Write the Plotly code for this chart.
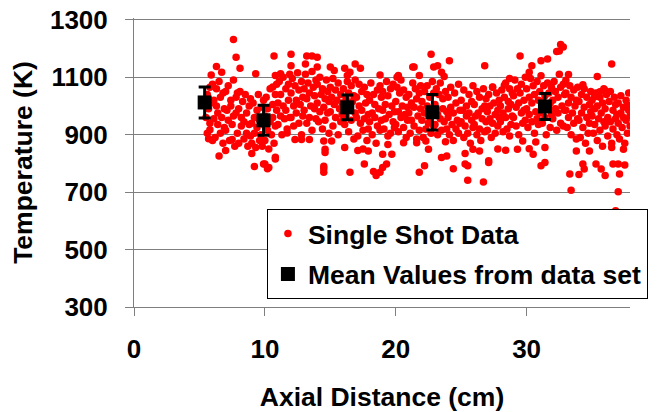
import plotly.graph_objects as go

# single shot readings, main band (cm, K)
band_x = [
    5.5, 5.6, 5.6, 5.7, 5.8, 5.8, 5.9, 6.0,
    6.0, 6.1, 6.1, 6.2, 6.3, 6.3, 6.4, 6.4, 6.5, 6.6, 6.6, 6.7, 6.8, 6.8, 6.9, 6.9,
    7.0, 7.0, 7.1, 7.2, 7.2, 7.3, 7.4, 7.4, 7.5, 7.6, 7.6, 7.7, 7.8, 7.8, 7.9, 7.9,
    8.0, 8.0, 8.1, 8.2, 8.2, 8.3, 8.4, 8.4, 8.5, 8.6, 8.6, 8.7, 8.8, 8.8, 8.9, 8.9,
    9.0, 9.0, 9.1, 9.2, 9.2, 9.3, 9.4, 9.4, 9.5, 9.6, 9.6, 9.7, 9.8, 9.8, 9.9, 9.9,
    10.0, 10.0, 10.1, 10.2, 10.2, 10.3, 10.4, 10.4, 10.5, 10.6, 10.6, 10.7, 10.8, 10.8, 10.9, 10.9,
    11.0, 11.0, 11.1, 11.2, 11.2, 11.3, 11.4, 11.4, 11.5, 11.6, 11.6, 11.7, 11.8, 11.8, 11.9, 11.9,
    12.0, 12.0, 12.1, 12.2, 12.2, 12.3, 12.4, 12.4, 12.5, 12.6, 12.6, 12.7, 12.8, 12.8, 12.9, 12.9,
    13.0, 13.0, 13.1, 13.2, 13.2, 13.3, 13.4, 13.4, 13.5, 13.6, 13.6, 13.7, 13.8, 13.8, 13.9, 13.9,
    14.0, 14.0, 14.1, 14.2, 14.2, 14.3, 14.4, 14.4, 14.5, 14.6, 14.6, 14.7, 14.8, 14.8, 14.9, 14.9,
    15.0, 15.0, 15.1, 15.2, 15.2, 15.3, 15.4, 15.4, 15.5, 15.6, 15.6, 15.7, 15.8, 15.8, 15.9, 15.9,
    16.0, 16.0, 16.1, 16.2, 16.2, 16.3, 16.4, 16.4, 16.5, 16.6, 16.6, 16.7, 16.8, 16.8, 16.9, 16.9,
    17.0, 17.0, 17.1, 17.2, 17.2, 17.3, 17.4, 17.4, 17.5, 17.6, 17.6, 17.7, 17.8, 17.8, 17.9, 17.9,
    18.0, 18.0, 18.1, 18.2, 18.2, 18.3, 18.4, 18.4, 18.5, 18.6, 18.6, 18.7, 18.8, 18.8, 18.9, 18.9,
    19.0, 19.0, 19.1, 19.2, 19.2, 19.3, 19.4, 19.4, 19.5, 19.6, 19.6, 19.7, 19.8, 19.8, 19.9, 19.9,
    20.0, 20.0, 20.1, 20.2, 20.2, 20.3, 20.4, 20.4, 20.5, 20.6, 20.6, 20.7, 20.8, 20.8, 20.9, 20.9,
    21.0, 21.0, 21.1, 21.2, 21.2, 21.3, 21.4, 21.4, 21.5, 21.6, 21.6, 21.7, 21.8, 21.8, 21.9, 21.9,
    22.0, 22.0, 22.1, 22.2, 22.2, 22.3, 22.4, 22.4, 22.5, 22.6, 22.6, 22.7, 22.8, 22.8, 22.9, 22.9,
    23.0, 23.0, 23.1, 23.2, 23.2, 23.3, 23.4, 23.4, 23.5, 23.6, 23.6, 23.7, 23.8, 23.8, 23.9, 23.9,
    24.0, 24.0, 24.1, 24.2, 24.2, 24.3, 24.4, 24.4, 24.5, 24.6, 24.6, 24.7, 24.8, 24.8, 24.9, 24.9,
    25.0, 25.0, 25.1, 25.2, 25.2, 25.3, 25.4, 25.4, 25.5, 25.6, 25.6, 25.7, 25.8, 25.8, 25.9, 25.9,
    26.0, 26.0, 26.1, 26.2, 26.2, 26.3, 26.4, 26.4, 26.5, 26.6, 26.6, 26.7, 26.8, 26.8, 26.9, 26.9,
    27.0, 27.0, 27.1, 27.2, 27.2, 27.3, 27.4, 27.4, 27.5, 27.6, 27.6, 27.7, 27.8, 27.8, 27.9, 27.9,
    28.0, 28.0, 28.1, 28.2, 28.2, 28.3, 28.4, 28.4, 28.5, 28.6, 28.6, 28.7, 28.8, 28.8, 28.9, 28.9,
    29.0, 29.0, 29.1, 29.2, 29.2, 29.3, 29.4, 29.4, 29.5, 29.6, 29.6, 29.7, 29.8, 29.8, 29.9, 29.9,
    30.0, 30.0, 30.1, 30.2, 30.2, 30.3, 30.4, 30.4, 30.5, 30.6, 30.6, 30.7, 30.8, 30.8, 30.9, 30.9,
    31.0, 31.0, 31.1, 31.2, 31.2, 31.3, 31.4, 31.4, 31.5, 31.6, 31.6, 31.7, 31.8, 31.8, 31.9, 31.9,
    32.0, 32.0, 32.1, 32.2, 32.2, 32.3, 32.4, 32.4, 32.5, 32.6, 32.6, 32.7, 32.8, 32.8, 32.9, 32.9,
    33.0, 33.0, 33.1, 33.2, 33.2, 33.3, 33.4, 33.4, 33.5, 33.6, 33.6, 33.7, 33.8, 33.8, 33.9, 33.9,
    34.0, 34.0, 34.1, 34.2, 34.2, 34.3, 34.4, 34.4, 34.5, 34.6, 34.6, 34.7, 34.8, 34.8, 34.9, 34.9,
    35.0, 35.0, 35.1, 35.2, 35.2, 35.3, 35.4, 35.4, 35.5, 35.6, 35.6, 35.7, 35.8, 35.8, 35.9, 35.9,
    36.0, 36.0, 36.1, 36.2, 36.2, 36.3, 36.4, 36.4, 36.5, 36.6, 36.6, 36.7, 36.8, 36.8, 36.9, 36.9,
    37.0, 37.0, 37.1, 37.2, 37.2, 37.3, 37.4, 37.4, 37.5, 37.6, 37.6, 37.7, 37.8, 37.8, 37.9, 37.9,
]
band_t = [
    960, 1040, 905, 990, 1065, 940, 1010, 880,
    1075, 955, 1020, 890, 1000, 1060, 935, 975, 1085, 905, 1030, 960, 870, 1045, 990, 925,
    1050, 915, 985, 1070, 950, 880, 1020, 1000, 935, 1090, 965, 860, 1030, 975, 905, 1045,
    990, 870, 1050, 930, 960, 1015, 885, 945, 1040, 905, 975, 860, 1000, 935, 895, 1025,
    940, 870, 1010, 905, 960, 855, 985, 925, 1040, 880, 950, 900, 995, 860, 935, 1020,
    965, 880, 1030, 915, 990, 850, 945, 1060, 900, 1005, 960, 870, 1040, 930, 985, 1075,
    1010, 935, 1085, 965, 1040, 900, 1000, 1100, 955, 1060, 985, 920, 1075, 1020, 960, 1110,
    1045, 960, 1095, 1000, 930, 1070, 1020, 975, 1115, 940, 1055, 1005, 900, 1085, 1030, 965,
    1060, 985, 1110, 940, 1025, 1080, 960, 1045, 1000, 1120, 915, 1065, 990, 1035, 955, 1090,
    1010, 1075, 945, 1100, 980, 1040, 920, 1060, 995, 1025, 950, 1090, 975, 1050, 905, 1015,
    1065, 980, 1030, 930, 1095, 1005, 960, 1055, 1020, 900, 1080, 990, 945, 1040, 970, 1010,
    1000, 1060, 935, 1025, 965, 1085, 910, 1045, 990, 1070, 950, 1015, 885, 1035, 975, 1090,
    960, 1030, 895, 1075, 1000, 940, 1050, 985, 915, 1065, 955, 1010, 880, 1040, 970, 920,
    1020, 945, 1080, 975, 900, 1040, 960, 1005, 870, 1055, 930, 990, 1070, 915, 1030, 950,
    985, 1050, 920, 1005, 955, 1085, 895, 1035, 970, 1060, 905, 1000, 945, 1075, 980, 925,
    1015, 935, 1065, 980, 910, 1045, 960, 1090, 1000, 925, 1055, 970, 890, 1030, 995, 950,
    975, 1040, 905, 1010, 950, 1080, 930, 995, 1060, 885, 1025, 965, 1045, 915, 990, 1070,
    950, 1015, 890, 1050, 975, 920, 1070, 1000, 940, 1030, 960, 905, 1085, 985, 930, 1045,
    1005, 935, 1060, 970, 900, 1040, 955, 1080, 915, 990, 1025, 945, 875, 1050, 980, 920,
    960, 1030, 900, 995, 1065, 935, 975, 880, 1045, 920, 1010, 950, 1075, 905, 985, 940,
    1020, 945, 985, 890, 1055, 930, 1000, 965, 905, 1040, 975, 870, 1015, 950, 1070, 925,
    935, 1005, 965, 900, 1050, 975, 920, 1030, 880, 990, 955, 1060, 910, 1000, 945, 1025,
    980, 915, 1040, 955, 1000, 890, 1065, 940, 1010, 970, 905, 1045, 985, 930, 1020, 960,
    1000, 945, 1055, 975, 910, 1030, 960, 1080, 920, 1015, 990, 1060, 935, 1005, 965, 1045,
    1035, 960, 1090, 995, 930, 1060, 1010, 900, 1045, 975, 1075, 940, 1020, 985, 1100, 950,
    990, 1060, 925, 1030, 970, 1095, 945, 1010, 1070, 905, 1040, 980, 1085, 955, 1020, 935,
    1050, 975, 1105, 940, 1015, 1070, 960, 1035, 900, 1080, 995, 1045, 925, 1010, 1065, 970,
    1020, 955, 1085, 990, 1050, 915, 1030, 975, 1110, 940, 1065, 1000, 930, 1075, 985, 1040,
    985, 1045, 925, 1010, 960, 1070, 900, 1030, 975, 1055, 940, 1000, 885, 1020, 955, 1065,
    950, 1015, 890, 1040, 975, 925, 1060, 995, 870, 1030, 960, 905, 1005, 940, 1050, 980,
    965, 1020, 905, 990, 935, 1045, 880, 1000, 955, 1030, 915, 975, 860, 1010, 945, 1060,
    990, 930, 1040, 960, 895, 1015, 945, 1050, 870, 985, 920, 1030, 955, 1005, 900, 970,
    940, 1010, 885, 975, 1035, 925, 995, 960, 870, 1020, 950, 905, 985, 1045, 930, 965,
]

# single shots lying outside the main band
spread_x = [
    7.6, 7.8, 8.1, 6.3, 5.9, 6.7, 9.3, 6.5, 7.0, 5.7, 5.8, 9.2, 9.9, 9.0, 7.5,
    10.3, 10.8, 10.8, 14.5, 14.5, 14.6, 14.6, 15.1, 10.7, 12.0, 13.2, 13.6, 14.0,
    12.0, 13.1, 14.0, 15.0, 10.8, 11.2, 10.6, 12.3, 12.8, 13.4, 14.5, 14.5, 11.7,
    10.0, 10.2, 16.9, 17.3, 16.1, 16.5, 16.3, 15.3, 18.8, 20.1, 20.2, 21.3, 16.1,
    16.5, 17.6, 18.3, 18.5, 18.8, 19.0, 19.3, 19.0, 19.7, 19.4, 20.6, 17.1, 17.5,
    17.9, 22.7, 24.1, 21.4, 22.9, 23.2, 23.5, 23.7, 26.8, 21.8, 22.5, 22.3, 21.6,
    23.5, 23.9, 22.2, 21.8, 24.4, 25.3, 25.3, 25.5, 25.9, 26.4, 25.5, 26.7, 27.1,
    29.5, 31.1, 30.4, 30.2, 31.6, 32.3, 32.6, 28.7, 27.4, 28.3, 27.1, 29.3, 29.7,
    30.2, 30.5, 30.7, 31.4, 31.1, 31.4, 27.8, 28.4, 28.7, 32.8, 32.5, 36.5, 35.4,
    33.2, 33.0, 34.3, 36.0, 35.6, 35.2, 37.7, 33.8, 34.8, 36.5, 37.4, 34.3, 34.4,
    34.0, 33.3, 35.3, 35.7, 36.0, 36.6, 37.0, 37.5, 37.1, 33.4, 37.0, 36.8,
]
spread_t = [
    1231, 1169, 1131, 1137, 1108, 1117, 1112, 826, 845, 886, 917, 789, 798, 834, 883,
    786, 821, 815, 781, 790, 849, 838, 878, 1174, 1180, 1174, 1174, 1169,
    1140, 1146, 1135, 1135, 1106, 1112, 1066, 883, 883, 883, 878, 769, 906,
    798, 781, 1146, 1131, 1131, 1117, 1106, 1123, 1108, 1100, 1106, 1135, 855,
    769, 798, 772, 758, 769, 786, 798, 832, 832, 866, 872, 845, 850,
    843, 1180, 1157, 1135, 1135, 1140, 1117, 1102, 1140, 1106, 849, 878, 872,
    820, 826, 792, 769, 781, 834, 798, 792, 849, 843, 741, 735, 809,
    1174, 1157, 1140, 1117, 1163, 1189, 1214, 1095, 1066, 1072, 803, 849, 878,
    851, 832, 874, 855, 792, 803, 850, 846, 895, 1205, 1191, 1146, 1102,
    1109, 1089, 1074, 1054, 1049, 1032, 1003, 843, 843, 855, 849, 798, 780,
    761, 763, 798, 780, 758, 798, 798, 794, 763, 706, 701, 635,
]

# mean values and their spread
mean_x = [5.4, 9.9, 16.3, 22.8, 31.4]
mean_t = [1012, 950, 995, 978, 998]
mean_err = [54, 52, 43, 62, 45]

assert len(band_x) == len(band_t) and len(spread_x) == len(spread_t)

font = "Arial, Liberation Sans, sans-serif"
grey = "#7f7f7f"

fig = go.Figure()
fig.add_trace(go.Scatter(
    x=band_x + spread_x, y=band_t + spread_t, mode="markers",
    name="Single Shot Data", legendgroup="a",
    marker=dict(color="#ff0000", size=7.5, line=dict(width=0)),
))
fig.add_trace(go.Scatter(
    x=mean_x, y=mean_t, mode="markers",
    name="Mean Values from data set", legendgroup="b",
    marker=dict(color="black", symbol="square", size=14),
    error_y=dict(type="data", array=mean_err, color="black", thickness=3, width=6),
))

# the page body adds an 8px margin, so the figure is a little smaller than the window
fig.update_layout(
    width=652, height=404,
    margin=dict(l=126, r=30, t=10, b=105),
    plot_bgcolor="white", paper_bgcolor="white",
    font=dict(family=font, size=26, color="black"),
    showlegend=True,
    legend=dict(
        x=0.268, y=0.34, xanchor="left", yanchor="top",
        bgcolor="white", bordercolor="black", borderwidth=1,
        traceorder="grouped", tracegroupgap=3,
        font=dict(family=font, size=26.5, color="black", weight="bold"),
    ),
    xaxis=dict(
        range=[0, 37.9], dtick=10, tick0=0,
        showgrid=False, zeroline=False, automargin=False,
        showline=True, linecolor=grey, linewidth=1,
        ticks="outside", ticklen=8, tickcolor=grey,
        tickfont=dict(weight="bold"), ticklabelstandoff=11,
        ticklabeloverflow="allow",
        title=dict(text="<b>Axial Distance (cm)</b>", standoff=26,
                   font=dict(size=26.5)),
    ),
    yaxis=dict(
        range=[300, 1306], dtick=200, tick0=300,
        showgrid=True, gridcolor=grey, gridwidth=1,
        zeroline=False, automargin=False,
        showline=True, linecolor=grey, linewidth=1,
        ticks="outside", ticklen=8, tickcolor=grey,
        tickfont=dict(weight="bold"), ticklabelstandoff=12,
        ticklabeloverflow="allow",
        title=dict(text="<b>Temperature (K)</b>", standoff=14,
                   font=dict(size=26.5)),
    ),
)

fig.write_html("out.html")
